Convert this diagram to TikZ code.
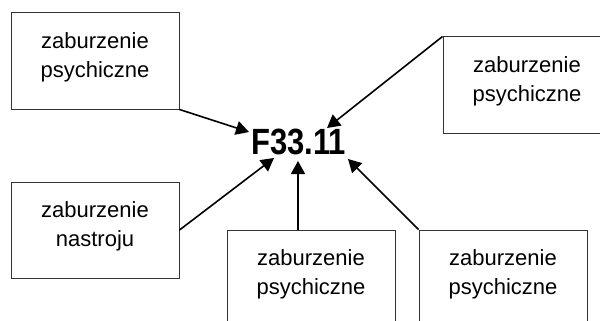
\documentclass[tikz,border=0pt]{standalone}
\usepackage{fontspec}
\setmainfont{Liberation Sans}
\newfontfamily\boldnarrow[FakeStretch=0.85]{Liberation Sans Bold}
\usetikzlibrary{arrows.meta}
\begin{document}
\begin{tikzpicture}[x=1pt,y=-1pt,
  box/.style={draw=black!80, line width=1pt, minimum width=168pt, minimum height=96pt,
    inner sep=0pt, align=center, font=\fontsize{22}{28.5}\selectfont,
    execute at end node={\rule[-12pt]{0pt}{0pt}}},
  arr/.style={line width=1.6pt, -{Triangle[length=13pt,width=14pt]}}]
\useasboundingbox (0,0) rectangle (600,321);
\clip (0,0) rectangle (600,321);
\node[box] (b1) at (95,61) {zaburzenie\\psychiczne};
\node[box] (b2) at (527,85) {zaburzenie\\psychiczne};
\node[box] (b3) at (95,230) {zaburzenie\\nastroju};
\node[box] (b4) at (311,278) {zaburzenie\\psychiczne};
\node[box] (b5) at (503,278) {zaburzenie\\psychiczne};
\node[font=\boldnarrow\fontsize{36.5}{36.5}\selectfont, inner sep=0pt, anchor=base] (f) at (298.5,154.5) {F33.11};
\coordinate (t1) at (249,132);
\coordinate (t2) at (327,128);
\coordinate (t3) at (274,158);
\coordinate (t4) at (298,161);
\coordinate (t5) at (348,159);
\coordinate (s4) at (298,230);
\draw[arr] (b1.south east) -- (t1);
\draw[arr] (b2.north west) -- (t2);
\draw[arr] (b3.east) -- (t3);
\draw[arr] (s4) -- (t4);
\draw[arr] (b5.north west) -- (t5);
\end{tikzpicture}
\end{document}
